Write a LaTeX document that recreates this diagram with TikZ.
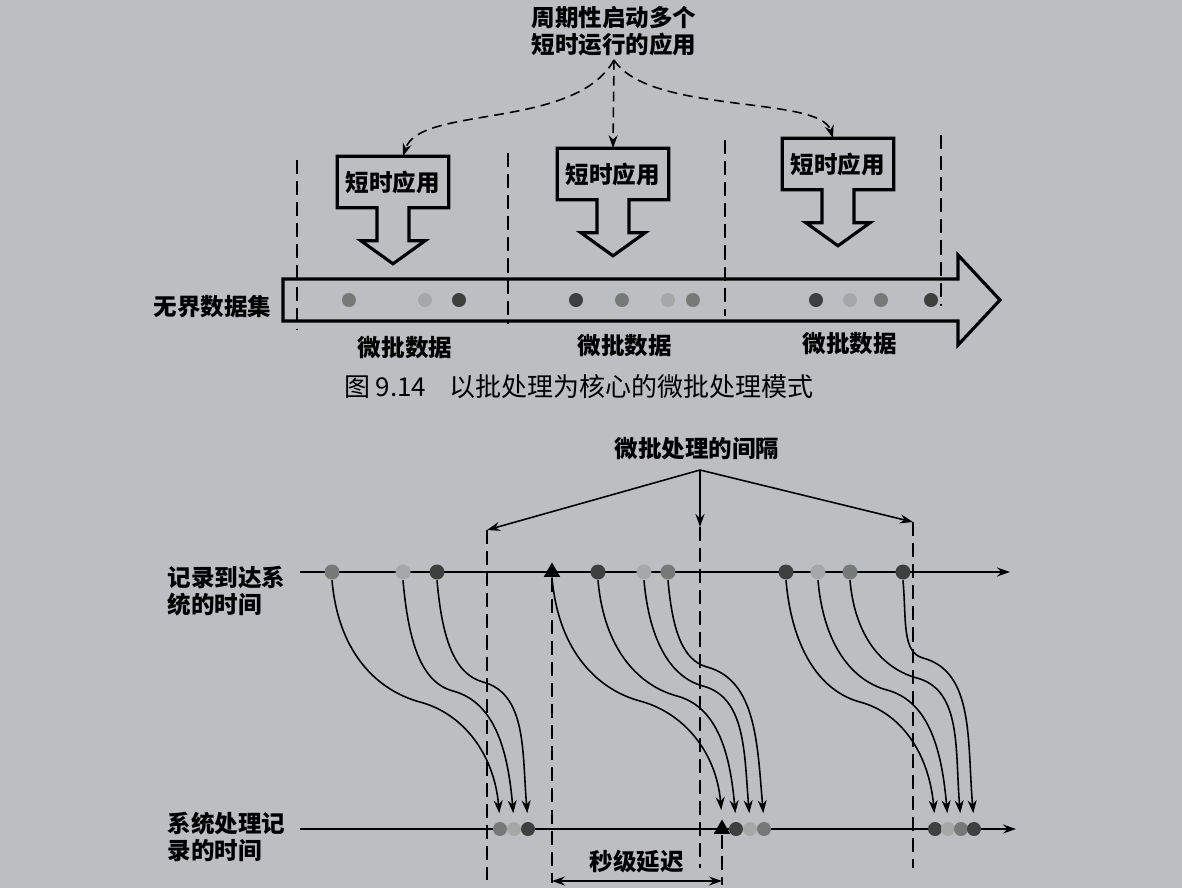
\documentclass[tikz,border=0pt]{standalone}
\usepackage{fontspec}
\usepackage{tikz}
\usetikzlibrary{arrows.meta,shapes.geometric}
\newfontfamily\cjk{Noto Sans CJK SC}
\definecolor{paper}{RGB}{188,190,193}
\definecolor{dotdark}{RGB}{62,64,62}
\definecolor{dotmid}{RGB}{118,122,118}
\definecolor{dotlight}{RGB}{166,168,168}
\tikzset{%
	lbl/.style      = {font=\cjk\bfseries\fontsize{6.7}{7.8}\selectfont, inner sep=0pt, align=center},
	appbox/.style   = {lbl, minimum width=1.1cm, minimum height=0.5cm}, % box text
	appout/.style   = {draw, line width=0.9pt, line join=miter}, % hollow outlines
	rec/.style      = {circle, inner sep=0pt, minimum size=1.5mm, fill=#1}, % record
	tri/.style      = {regular polygon, regular polygon sides=3, inner sep=0pt, minimum size=1.9mm, fill=black},
	cutline/.style  = {dash pattern=on 4pt off 2pt, line width=0.45pt},
	launchline/.style = {->, dash pattern=on 2.8pt off 1.7pt, line width=0.45pt},
	recflow/.style  = {->, line width=0.45pt, shorten >=0.08cm}
}
\begin{document}
\begin{tikzpicture}[>={Stealth[length=1.3mm,width=0.9mm]}, line width=0.45pt]
	\fill[paper] (0,0) rectangle (11.82,-8.88);
	\useasboundingbox (0,0) rectangle (11.82,-8.88);
	
	% micro batch with short apps
	\node[lbl] at (6.14,-0.31) (launch) {周期性启动多个\\短时运行的应用};
	\coordinate (launchtip) at (6.14,-0.60);
	\node[appbox] at (3.93,-1.82) (app1) {短时应用};
	\node[appbox] at (6.13,-1.74) (app2) {短时应用};
	\node[appbox] at (8.38,-1.64) (app3) {短时应用};
	
	\draw[launchline] (launchtip) .. controls (5.75,-1.30) and (4.20,-1.05) .. ([xshift=1mm]app1.north);
	\draw[launchline] (launchtip) -- (app2.north);
	\draw[launchline] (launchtip) .. controls (6.50,-1.15) and (8.20,-0.95) .. ([xshift=-0.5mm]app3.north);
	
	\foreach \n in {app1,app2,app3}
		\draw[appout] (\n.south west) |- (\n.north east) |- ([xshift=0.16cm]\n.south) -- ++(0,-0.33) -- ++(0.16,0) -- ([yshift=-0.56cm]\n.south) -- ++(-0.32,0.23) -- ++(0.16,0) -- ++(0,0.33) -- cycle;
	
	\foreach \x/\ya/\yb in {2.97/1.60/3.30, 5.08/1.53/3.24, 7.25/1.40/3.16, 9.41/1.35/3.06}
		\draw[cutline] (\x,-\ya) -- (\x,-\yb);
	
	\draw[appout] (2.83,-2.79) -- (9.58,-2.79) -- (9.58,-2.55) -- (10.00,-3.00) -- (9.58,-3.45) -- (9.58,-3.21) -- (2.83,-3.21) -- cycle;
	\node[lbl, anchor=east] at (2.72,-3.07) (unbounded) {无界数据集};
	
	\foreach \x/\c [count=\i] in {3.49/dotmid, 4.25/dotlight, 4.59/dotdark, 5.76/dotdark, 6.22/dotmid, 6.68/dotlight, 6.93/dotmid, 8.16/dotdark, 8.50/dotlight, 8.81/dotmid, 9.31/dotdark}
		\node[rec=\c, minimum size=1.4mm] at (\x,-3.00) (d\i) {};
	
	\node[lbl] at (4.05,-3.48) (mb1) {微批数据};
	\node[lbl] at (6.25,-3.46) (mb2) {微批数据};
	\node[lbl] at (8.50,-3.44) (mb3) {微批数据};
	
	\node[font=\cjk\fontsize{7.4}{8}\selectfont, inner sep=0pt] at (5.79,-3.87) (caption) {图 9.14\hspace{0.9em}以批处理为核心的微批处理模式};
	
	% record times
	\node[lbl] at (6.97,-4.49) (interval) {微批处理的间隔};
	\coordinate (inttip) at (7.00,-4.70);
	\coordinate (cut1) at (4.87,-5.30);
	\coordinate (cut2) at (7.00,-5.27);
	\coordinate (cut3) at (9.13,-5.22);
	\foreach \c in {cut1,cut2,cut3}
		\draw[->] (inttip) -- (\c);
	\draw[cutline] (cut1) -- ++(0,-3.50);
	\draw[cutline] (cut2) -- ++(0,-3.41);
	\draw[cutline] (cut3) -- ++(0,-3.46);
	
	\coordinate (arrs) at (3.00,-5.72);
	\coordinate (arre) at (10.10,-5.72);
	\coordinate (procs) at (3.00,-8.29);
	\coordinate (proce) at (10.16,-8.29);
	\draw[->] (arrs) -- (arre);
	\draw[->] (procs) -- (proce);
	\node[lbl, align=left, anchor=west] at (1.67,-5.91) (arrive) {记录到达系\\统的时间};
	\node[lbl, align=left, anchor=west] at (1.67,-8.37) (process) {系统处理记\\录的时间};
	
	\foreach \i/\x/\c in {1/3.32/dotmid, 2/4.03/dotlight, 3/4.37/dotdark, 5/5.98/dotdark, 6/6.44/dotlight, 7/6.68/dotmid, 8/7.86/dotdark, 9/8.18/dotlight, 10/8.50/dotmid, 11/9.03/dotdark}
		\node[rec=\c] at (\x,-5.72) (r\i) {};
	\node[tri] at (5.52,-5.72) (r4) {};
	
	\foreach \i/\x/\c in {1/5.00/dotmid, 2/5.14/dotlight, 3/5.28/dotdark, 5/7.36/dotdark, 6/7.50/dotlight, 7/7.64/dotmid, 8/9.35/dotdark, 9/9.48/dotlight, 10/9.61/dotmid, 11/9.74/dotdark}
		\node[rec=\c, minimum size=1.4mm] at (\x,-8.29) (p\i) {};
	\node[tri] at (7.22,-8.29) (p4) {};
	
	\foreach \i/\xs/\ys in {1/4.20/7.02, 2/4.53/6.91, 3/4.83/6.82, 4/6.40/7.01, 5/6.77/6.96, 6/7.03/6.86, 7/7.07/6.67, 8/8.60/7.02, 9/8.87/6.90, 10/9.17/6.78, 11/9.23/6.58}
		\draw[recflow] (r\i.south) to[out=-85, in=165, out looseness=1.3, in looseness=0.7] (\xs,-\ys) to[out=-15, in=95, out looseness=0.8, in looseness=1.2] (p\i.north);
	
	% delay
	\draw[cutline] (r4.south) -- ++(0,-3.05);
	\draw[cutline] (p4.south) -- ++(0,-0.50);
	\coordinate (dl) at (5.52,-8.81);
	\coordinate (dr) at (7.22,-8.81);
	\draw[<->] (dl) -- (dr);
	\node[lbl] at (6.37,-8.62) (delay) {秒级延迟};
	
\end{tikzpicture}
\end{document}
